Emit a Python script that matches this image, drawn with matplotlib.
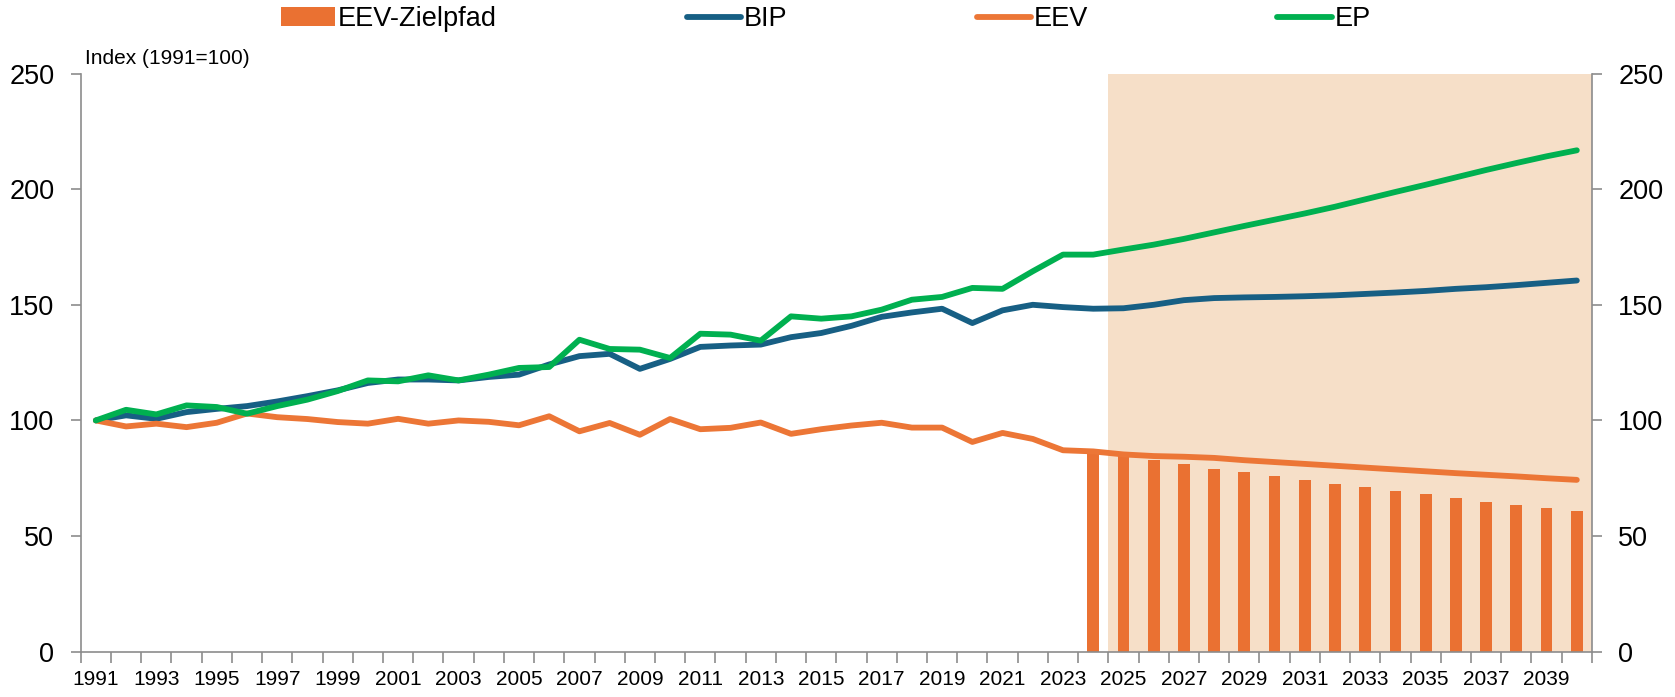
import numpy as np
import matplotlib
matplotlib.use("Agg")
import matplotlib.pyplot as plt
from matplotlib import font_manager

# Daten (Index 1991=100)
years = list(range(1991, 2041))

bip = [100.0, 102.2, 100.7, 103.6, 105.0, 106.2, 108.2, 110.5, 113.0, 116.2,
       117.7, 117.7, 117.3, 118.8, 119.8, 124.2, 127.8, 128.8, 122.3, 126.6,
       131.8, 132.4, 132.8, 136.0, 137.8, 140.9, 144.8, 146.7, 148.3, 142.1,
       147.6, 150.0, 149.0, 148.3, 148.5, 150.0, 152.0, 152.9, 153.2, 153.4,
       153.7, 154.1, 154.7, 155.3, 156.0, 156.9, 157.6, 158.5, 159.5, 160.5]

eev = [100.0, 97.4, 98.6, 97.1, 99.0, 103.0, 101.4, 100.6, 99.3, 98.6,
       100.7, 98.6, 100.0, 99.4, 97.9, 101.8, 95.3, 98.9, 93.8, 100.6,
       96.2, 96.8, 99.1, 94.2, 96.2, 97.8, 99.0, 96.9, 96.9, 90.7,
       94.6, 92.0, 87.1, 86.6, 85.3, 84.6, 84.3, 83.8, 82.8, 82.0,
       81.2, 80.4, 79.6, 78.8, 78.0, 77.2, 76.5, 75.8, 75.0, 74.3]

ep = [100.0, 104.6, 102.6, 106.5, 105.8, 102.9, 106.2, 109.0, 112.7, 117.3,
      116.9, 119.5, 117.3, 119.8, 122.7, 123.1, 134.9, 130.9, 130.6, 127.0,
      137.5, 137.1, 134.5, 145.0, 144.0, 145.0, 147.9, 152.2, 153.4, 157.3,
      156.9, 164.5, 171.7, 171.7, 173.9, 176.0, 178.5, 181.3, 184.1, 186.8,
      189.5, 192.4, 195.6, 198.8, 201.9, 205.1, 208.3, 211.3, 214.2, 216.8]

ziel_years = list(range(2024, 2041))
ziel = [86.6, 84.6, 82.7, 81.0, 79.2, 77.5, 75.8, 74.2, 72.6,
        71.0, 69.6, 68.0, 66.5, 64.9, 63.5, 62.2, 60.8]

year_labels = [str(y) for y in years[::2]]

# Farben
c_bar = "#EA7132"
c_eev = "#EC7636"
c_bip = "#175F84"
c_ep = "#00B050"
c_shade = "#F6DFC8"
c_axis = "#8C8C8C"

installed = {f.name for f in font_manager.fontManager.ttflist}
if "Liberation Sans Narrow" in installed:
    year_font, year_size = "Liberation Sans Narrow", 18
else:
    year_font, year_size = "Liberation Sans", 15

plt.rcParams["font.family"] = "Liberation Sans"

fig = plt.figure(figsize=(16.75, 6.97), dpi=100)
ax = fig.add_axes([0.0482, 0.065, 0.9022, 0.8295])

# Prognosezeitraum
ax.axvspan(2024.5, 2040.5, color=c_shade, lw=0, zorder=0)

bars = ax.bar(ziel_years, ziel, width=0.39, color=c_bar, zorder=2, label="EEV-Zielpfad")
l_bip, = ax.plot(years, bip, color=c_bip, lw=4.2, solid_capstyle="round", zorder=3, label="BIP")
l_eev, = ax.plot(years, eev, color=c_eev, lw=4.2, solid_capstyle="round", zorder=3, label="EEV")
l_ep, = ax.plot(years, ep, color=c_ep, lw=4.2, solid_capstyle="round", zorder=4, label="EP")

ax.set_xlim(1990.5, 2040.5)
ax.set_ylim(0, 250)
ax.set_yticks(range(0, 251, 50))

ax.set_xticks(years[::2], labels=year_labels, family=year_font, fontsize=year_size)
ax.set_xticks(np.arange(1990.5, 2041, 1), minor=True)
ax.tick_params(axis="x", which="major", length=0, pad=13)
ax.tick_params(axis="x", which="minor", length=8, width=1.2, color=c_axis, direction="out")
ax.tick_params(axis="y", left=True, right=True, labelleft=True, labelright=True,
               length=7, width=1.2, color=c_axis, pad=12, labelsize=19.5)

ax.spines["top"].set_visible(False)
for s in ["left", "right", "bottom"]:
    ax.spines[s].set_color(c_axis)
    ax.spines[s].set_linewidth(1.2)

fig.text(85 / 1675, 1 - 59 / 697, "Index (1991=100)", fontsize=15, va="center", ha="left")

fig.legend([bars, l_bip, l_eev, l_ep], ["EEV-Zielpfad", "BIP", "EEV", "EP"],
           loc="center", bbox_to_anchor=(0.493, 1 - 19 / 697), ncol=4, frameon=False,
           fontsize=19.5, handlelength=2.0, handletextpad=0.1, columnspacing=7.0)

fig.savefig("out.png", dpi=100)
